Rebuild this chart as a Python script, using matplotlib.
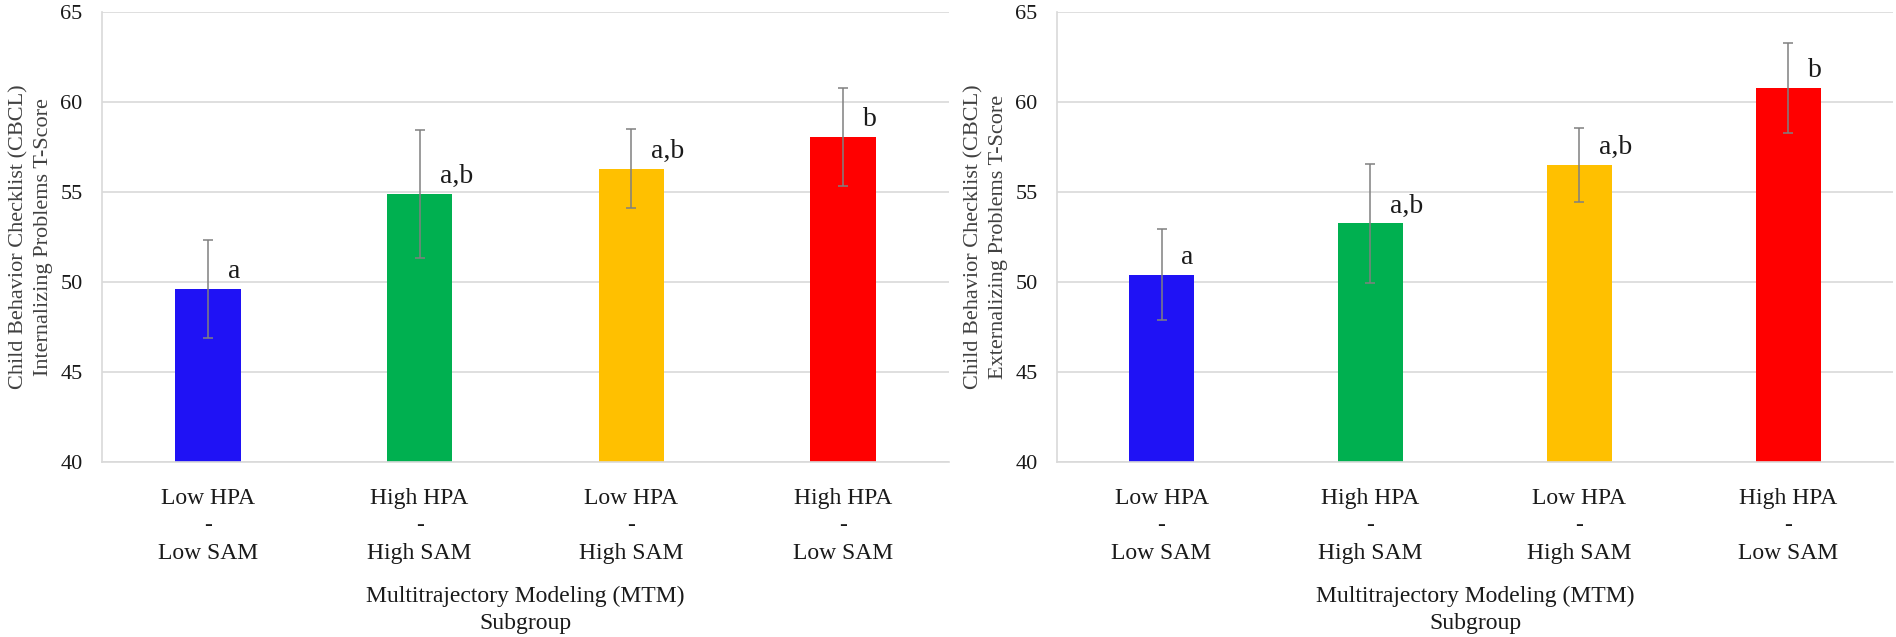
import matplotlib
matplotlib.use("Agg")
import matplotlib.pyplot as plt

categories = ["Low HPA\n-\nLow SAM", "High HPA\n-\nHigh SAM",
              "Low HPA\n-\nHigh SAM", "High HPA\n-\nLow SAM"]
colors = ["#1F12F5", "#00B050", "#FFC000", "#FF0000"]

internalizing = [49.6, 54.9, 56.3, 58.05]
internalizing_err = [2.75, 3.55, 2.18, 2.72]
externalizing = [50.4, 53.25, 56.5, 60.8]
externalizing_err = [2.52, 3.33, 2.04, 2.5]
sig_labels = ["a", "a,b", "a,b", "b"]

ylabels = ["Child Behavior Checklist (CBCL)\nInternalizing Problems T-Score",
           "Child Behavior Checklist (CBCL)\nExternalizing Problems T-Score"]
xlabel = "Multitrajectory Modeling (MTM)\nSubgroup"
yticks = [40, 45, 50, 55, 60, 65]

plt.rcParams['font.family'] = ['Liberation Serif', 'DejaVu Serif']

fig = plt.figure(figsize=(18.96, 6.37), dpi=100)
ax1 = fig.add_axes([0.0538, 0.2755, 0.4467, 0.7052])
ax2 = fig.add_axes([0.5575, 0.2755, 0.4409, 0.7052])

grid_c = "#d9d9d9"
txt_c = "#1a1a1a"
for ax, vals, errs, yl in [(ax1, internalizing, internalizing_err, ylabels[0]),
                           (ax2, externalizing, externalizing_err, ylabels[1])]:
    x = list(range(len(categories)))
    ax.bar(x, [v - 40 for v in vals], bottom=40, width=0.31, color=colors,
           zorder=2)
    ax.errorbar(x, vals, yerr=errs, fmt='none', ecolor="#808080",
                elinewidth=1.1, capsize=3.5, capthick=1.1, zorder=3)
    for xi, v, lab in zip(x, vals, sig_labels):
        ax.text(xi + 0.095, v + 0.6, lab, ha='left', va='baseline',
                fontsize=20, color=txt_c, zorder=4)
    ax.set_xlim(-0.5, 3.5)
    ax.set_ylim(40, 65)
    ax.set_yticks(yticks)
    ax.set_xticks(x)
    ax.set_xticklabels(categories, fontsize=17, color=txt_c,
                       linespacing=1.4)
    ax.tick_params(axis='y', labelsize=16, colors=txt_c, length=0, pad=14)
    ax.tick_params(axis='x', length=0, pad=19)
    ax.yaxis.grid(True, color=grid_c, linewidth=1.2, zorder=0)
    ax.set_axisbelow(True)
    for s in ['top', 'right']:
        ax.spines[s].set_visible(False)
    for s in ['left', 'bottom']:
        ax.spines[s].set_color(grid_c)
        ax.spines[s].set_linewidth(1.2)
    ax.set_ylabel(yl, fontsize=16, color='#404040', linespacing=1.4,
                  labelpad=5)
    ax.set_xlabel(xlabel, fontsize=17, color=txt_c, linespacing=1.35,
                  labelpad=16)

fig.savefig("out.png", dpi=100)
